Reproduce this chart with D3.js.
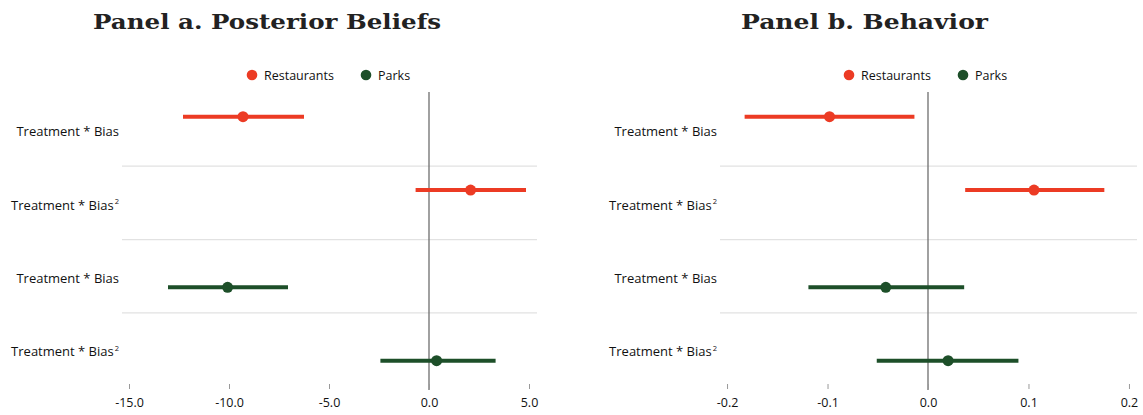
<!DOCTYPE html>
<html>
<head>
<meta charset="utf-8">
<script src="https://cdn.jsdelivr.net/npm/d3@7"></script>
<style>
  html, body { margin: 0; padding: 0; background: #fff; }
  svg { display: block; }
</style>
</head>
<body>
<svg id="chart" width="1143" height="415"></svg>
<script>
// Coefficient estimates with confidence intervals, one row per term
const terms = ["Treatment * Bias", "Treatment * Bias²", "Treatment * Bias", "Treatment * Bias²"];
const termGroup = ["Restaurants", "Restaurants", "Parks", "Parks"];
const groups = ["Restaurants", "Parks"];

const beliefsCoef = [-9.3, 2.08, -10.07, 0.38];
const beliefsLow  = [-12.3, -0.67, -13.05, -2.43];
const beliefsHigh = [-6.25, 4.85, -7.05, 3.33];

const behaviorCoef = [-0.098, 0.1055, -0.042, 0.020];
const behaviorLow  = [-0.1825, 0.037, -0.119, -0.051];
const behaviorHigh = [-0.0135, 0.1755, 0.036, 0.090];

const beliefsTicks = [-15, -10, -5, 0, 5];
const behaviorTicks = [-0.2, -0.1, 0, 0.1, 0.2];

const panels = [
  { title: "Panel a. Posterior Beliefs", coef: beliefsCoef, low: beliefsLow, high: beliefsHigh,
    ticks: beliefsTicks, domain: [-15.35, 5.4], left: 122, right: 537,
    titleX: 93, titleW: 348, legendX: 252 },
  { title: "Panel b. Behavior", coef: behaviorCoef, low: behaviorLow, high: behaviorHigh,
    ticks: behaviorTicks, domain: [-0.207, 0.208], left: 720, right: 1137,
    titleX: 741, titleW: 247, legendX: 849 }
];

const colors = { Restaurants: "#ec3b24", Parks: "#1d4f29" };
const seriesOffset = { Restaurants: -15, Parks: 9 };

const labelFont = "'Open Sans', 'DejaVu Sans', sans-serif";
const svg = d3.select("#chart");

const y = d3.scalePoint().domain(d3.range(terms.length)).range([131.7, 351.7]);
const bandTop = 92, bandBottom = 390;

function drawLabel(sel, text) {
  const parts = text.split("²");
  sel.append("tspan").text(parts[0]);
  if (parts.length > 1) {
    sel.append("tspan").attr("font-size", 7.5).attr("dy", -5.5).attr("dx", 1).text("2");
  }
}

panels.forEach(p => {
  const g = svg.append("g");
  const x = d3.scaleLinear().domain(p.domain).range([p.left, p.right]);

  // title
  g.append("text")
    .attr("x", p.titleX).attr("y", 29)
    .attr("font-family", "'DejaVu Serif', serif")
    .attr("font-weight", "bold")
    .attr("font-size", 20)
    .attr("textLength", p.titleW)
    .attr("lengthAdjust", "spacingAndGlyphs")
    .attr("fill", "#222")
    .text(p.title);

  // legend
  const lg = g.append("g").attr("transform", `translate(${p.legendX},75)`);
  let lx = 0;
  groups.forEach(name => {
    lg.append("circle").attr("cx", lx).attr("cy", 0).attr("r", 5.3).attr("fill", colors[name]);
    lg.append("text")
      .attr("x", lx + 12).attr("y", 4.5)
      .attr("font-family", labelFont).attr("font-size", 12.5).attr("fill", "#111")
      .text(name);
    lx += 114;
  });

  // row separators
  g.selectAll("line.sep").data(d3.range(terms.length - 1)).join("line")
    .attr("class", "sep")
    .attr("x1", p.left).attr("x2", p.right)
    .attr("y1", i => y(i) + 34.5).attr("y2", i => y(i) + 34.5)
    .attr("stroke", "#e2e2e2").attr("stroke-width", 1.2);

  // zero reference line
  g.append("line")
    .attr("x1", x(0)).attr("x2", x(0))
    .attr("y1", bandTop).attr("y2", bandBottom)
    .attr("stroke", "#6e6e6e").attr("stroke-width", 1.3);

  // row labels
  g.selectAll("text.term").data(terms).join("text")
    .attr("class", "term")
    .attr("x", p.left - 3).attr("y", (d, i) => y(i) + 4.5)
    .attr("text-anchor", "end")
    .attr("font-family", labelFont).attr("font-size", 13).attr("fill", "#111")
    .each(function(d) { drawLabel(d3.select(this), d); });

  // x axis
  const axis = d3.axisBottom(x).tickValues(p.ticks).tickFormat(d3.format(".1f")).tickSize(5).tickPadding(9);
  const ax = g.append("g").attr("transform", `translate(0,${384})`).call(axis);
  ax.select(".domain").remove();
  ax.selectAll(".tick line").attr("stroke", "#999").attr("stroke-width", 1);
  ax.selectAll(".tick text")
    .attr("font-family", labelFont).attr("font-size", 12.5).attr("fill", "#111")
    .text(d => d3.format(".1f")(d).replace("−", "-"));

  // confidence intervals and point estimates
  const rows = d3.range(terms.length).map(i => ({
    i, group: termGroup[i], coef: p.coef[i], low: p.low[i], high: p.high[i]
  }));
  const ry = d => y(d.i) + seriesOffset[d.group];

  g.selectAll("line.ci").data(rows).join("line")
    .attr("class", "ci")
    .attr("x1", d => x(d.low)).attr("x2", d => x(d.high))
    .attr("y1", ry).attr("y2", ry)
    .attr("stroke", d => colors[d.group]).attr("stroke-width", 4);

  g.selectAll("circle.est").data(rows).join("circle")
    .attr("class", "est")
    .attr("cx", d => x(d.coef)).attr("cy", ry).attr("r", 5.5)
    .attr("fill", d => colors[d.group]);
});
</script>
</body>
</html>
